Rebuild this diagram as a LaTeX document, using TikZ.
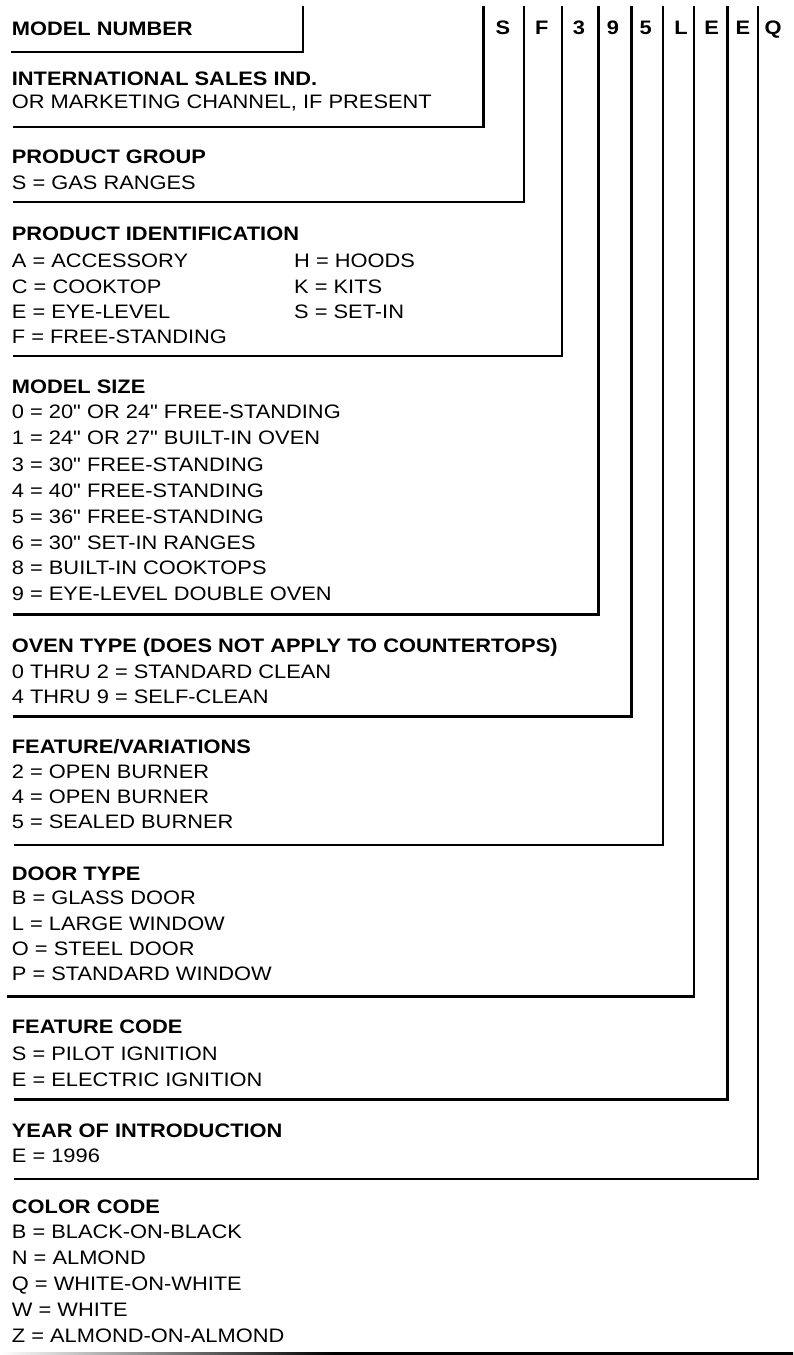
\documentclass[tikz,border=0pt]{standalone}
\usepackage{fontspec}
\setmainfont{Liberation Sans}[FakeStretch=1.12, Ligatures=TeXOff]
\pgfdeclarehorizontalshading{bottomfade}{100bp}{color(0bp)=(white); color(25bp)=(white); color(46bp)=(black); color(100bp)=(black)}
\begin{document}
\begin{tikzpicture}[x=1pt,y=-1pt,
  tx/.style={anchor=base west, inner sep=0pt, font=\fontsize{19.5}{22}\selectfont},
  hd/.style={anchor=base west, inner sep=0pt, font=\fontsize{19.5}{22}\selectfont\bfseries},
  dg/.style={anchor=base, inner sep=0pt, font=\fontsize{19.5}{22}\selectfont\bfseries},
  rule/.style={line width=2.2pt, line join=miter}]
\useasboundingbox (0,0) rectangle (793,1355);

% model number header
\node[hd] (mn) at (11.7,35) {MODEL NUMBER};
\node[dg] (d1) at (503,34) {S};
\node[dg] (d2) at (541.7,34) {F};
\node[dg] (d3) at (579,34) {3};
\node[dg] (d4) at (613,34) {9};
\node[dg] (d5) at (645.7,34) {5};
\node[dg] (d6) at (681,34) {L};
\node[dg] (d7) at (711.7,34) {E};
\node[dg] (d8) at (743,34) {E};
\node[dg] (d9) at (773,34) {Q};

% sections
\node[hd] (s0h) at (11.7,85) {INTERNATIONAL SALES IND.};
\node[tx] (s0a) at (11.7,108) {OR MARKETING CHANNEL, IF PRESENT};

\node[hd] (s1h) at (11.7,163) {PRODUCT GROUP};
\node[tx] (s1a) at (11.7,189) {S = GAS RANGES};

\node[hd] (s2h) at (11.7,240) {PRODUCT IDENTIFICATION};
\node[tx] (s2a) at (11.7,267) {A = ACCESSORY};
\node[tx] (s2b) at (11.7,293) {C = COOKTOP};
\node[tx] (s2c) at (11.7,318) {E = EYE-LEVEL};
\node[tx] (s2d) at (11.7,343) {F = FREE-STANDING};
\node[tx] (s2e) at (294,267) {H = HOODS};
\node[tx] (s2f) at (294,293) {K = KITS};
\node[tx] (s2g) at (294,318) {S = SET-IN};

\node[hd] (s3h) at (11.7,393) {MODEL SIZE};
\node[tx] (s3a) at (11.7,418) {0 = 20" OR 24" FREE-STANDING};
\node[tx] (s3b) at (11.7,444.5) {1 = 24" OR 27" BUILT-IN OVEN};
\node[tx] (s3c) at (11.7,471) {3 = 30" FREE-STANDING};
\node[tx] (s3d) at (11.7,497.5) {4 = 40" FREE-STANDING};
\node[tx] (s3e) at (11.7,523.5) {5 = 36" FREE-STANDING};
\node[tx] (s3f) at (11.7,549.5) {6 = 30" SET-IN RANGES};
\node[tx] (s3g) at (11.7,574.5) {8 = BUILT-IN COOKTOPS};
\node[tx] (s3h2) at (11.7,600) {9 = EYE-LEVEL DOUBLE OVEN};

\node[hd] (s4h) at (11.7,652) {OVEN TYPE (DOES NOT APPLY TO COUNTERTOPS)};
\node[tx] (s4a) at (11.7,678) {0 THRU 2 = STANDARD CLEAN};
\node[tx] (s4b) at (11.7,703) {4 THRU 9 = SELF-CLEAN};

\node[hd] (s5h) at (11.7,753) {FEATURE/VARIATIONS};
\node[tx] (s5a) at (11.7,778) {2 = OPEN BURNER};
\node[tx] (s5b) at (11.7,803) {4 = OPEN BURNER};
\node[tx] (s5c) at (11.7,828) {5 = SEALED BURNER};

\node[hd] (s6h) at (11.7,880) {DOOR TYPE};
\node[tx] (s6a) at (11.7,904) {B = GLASS DOOR};
\node[tx] (s6b) at (11.7,930) {L = LARGE WINDOW};
\node[tx] (s6c) at (11.7,955) {O = STEEL DOOR};
\node[tx] (s6d) at (11.7,980) {P = STANDARD WINDOW};

\node[hd] (s7h) at (11.7,1033.5) {FEATURE CODE};
\node[tx] (s7a) at (11.7,1060) {S = PILOT IGNITION};
\node[tx] (s7b) at (11.7,1086.5) {E = ELECTRIC IGNITION};

\node[hd] (s8h) at (11.7,1137) {YEAR OF INTRODUCTION};
\node[tx] (s8a) at (11.7,1162) {E = 1996};

\node[hd] (s9h) at (11.7,1213) {COLOR CODE};
\node[tx] (s9a) at (11.7,1238.5) {B = BLACK-ON-BLACK};
\node[tx] (s9b) at (11.7,1264.5) {N = ALMOND};
\node[tx] (s9c) at (11.7,1290.5) {Q = WHITE-ON-WHITE};
\node[tx] (s9d) at (11.7,1316.5) {W = WHITE};
\node[tx] (s9e) at (11.7,1342) {Z = ALMOND-ON-ALMOND};

% bracket lines
\coordinate (mtop) at (303,6);   \coordinate (mleft) at (11,52);
\coordinate (v0) at (483.5,6);   \coordinate (h0) at (13,127);
\coordinate (v1) at (524,6);     \coordinate (h1) at (13,202);
\coordinate (v2) at (561.7,6);   \coordinate (h2) at (13,356);
\coordinate (v3) at (598.5,6);   \coordinate (h3) at (13,614.5);
\coordinate (v4) at (631.5,6);   \coordinate (h4) at (13,716.5);
\coordinate (v5) at (663,6);     \coordinate (h5) at (14,845);
\coordinate (v6) at (694,6);     \coordinate (h6) at (7,996.5);
\coordinate (v7) at (727.5,6);   \coordinate (h7) at (14,1099.5);
\coordinate (v8) at (758,6);     \coordinate (h8) at (14,1179);

\draw[rule] (mtop) |- (mleft);
\draw[rule] (v0) |- (h0);
\draw[rule] (v1) |- (h1);
\draw[rule] (v2) |- (h2);
\draw[rule] (v3) |- (h3);
\draw[rule] (v4) |- (h4);
\draw[rule] (v5) |- (h5);
\draw[rule] (v6) |- (h6);
\draw[rule] (v7) |- (h7);
\draw[rule] (v8) |- (h8);

% bottom rule, fading in from the left
\shade[shading=bottomfade] (0,1352) rectangle (793,1354);
\end{tikzpicture}
\end{document}
